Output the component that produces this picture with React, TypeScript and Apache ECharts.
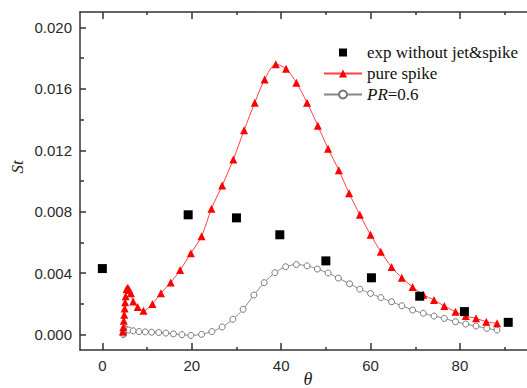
import React, { useEffect, useRef } from "react";
import * as echarts from "echarts";

const xMajor = [0, 20, 40, 60, 80];
const xMinor = [10, 30, 50, 70, 90];
const yMajor = [0, 0.004, 0.008, 0.012, 0.016, 0.02];
const yMinor = [0.002, 0.006, 0.01, 0.014, 0.018];

const expX = [0, 19.2, 30, 39.7, 50, 60.2, 71, 81, 90.8];
const expY = [0.0043, 0.0078, 0.0076, 0.0065, 0.0048, 0.0037, 0.0025, 0.0015, 0.0008];

const spikeX = [4.6, 4.7, 4.8, 4.9, 5.0, 5.1, 5.2, 5.4, 5.7, 6.0, 6.4, 6.9, 7.9, 9.2, 11.2, 13.1, 15.3, 17.4, 19.8, 22.2, 24.4, 26.8, 29.3, 31.7, 34.1, 36.3, 38.8, 41.1, 43.4, 45.8, 48.2, 50.5, 52.9, 55.2, 57.6, 60.0, 62.3, 64.7, 67.0, 69.4, 71.8, 74.2, 76.5, 79.0, 81.3, 83.6, 85.9, 88.3];
const spikeY = [0.0002, 0.0005, 0.0009, 0.0013, 0.0017, 0.0021, 0.0025, 0.00295, 0.00305, 0.0029, 0.0027, 0.00215, 0.0018, 0.00155, 0.002, 0.0027, 0.0034, 0.0042, 0.0053, 0.0064, 0.0082, 0.0097, 0.0114, 0.0133, 0.0151, 0.0166, 0.0176, 0.0173, 0.0164, 0.0151, 0.0136, 0.0121, 0.0107, 0.0092, 0.0078, 0.0065, 0.0054, 0.0044, 0.0037, 0.0031, 0.0026, 0.00225, 0.00186, 0.00149, 0.00121, 0.00106, 0.00084, 0.00074];

const prX = [4.7, 4.75, 4.8, 4.9, 5.0, 5.3, 5.9, 6.9, 8.2, 9.6, 11.0, 12.6, 14.2, 15.9, 17.8, 19.8, 22.2, 24.5, 26.8, 29.2, 31.5, 33.9, 36.2, 38.6, 41.0, 43.4, 45.8, 48.1, 50.5, 52.8, 55.3, 57.6, 60.0, 62.3, 64.7, 67.0, 69.4, 71.8, 74.2, 76.5, 79.0, 81.3, 83.6, 86.0, 88.3];
const prY = [0.0, 0.0001, 0.0002, 0.0003, 0.0004, 0.00035, 0.0003, 0.00025, 0.0002, 0.00018, 0.00016, 0.00014, 0.0001, 0.00005, 0.0, -0.00005, 0.00002, 0.0002, 0.0005, 0.001, 0.00165, 0.00258, 0.00338, 0.00403, 0.00442, 0.00456, 0.00448, 0.00427, 0.00401, 0.00368, 0.00331, 0.00296, 0.00268, 0.00241, 0.00214, 0.00188, 0.0016, 0.00139, 0.00121, 0.00106, 0.00084, 0.00069, 0.00056, 0.00041, 0.0003];

const zip = (xs: number[], ys: number[]) => xs.map((x, i) => [x, ys[i]]);

const AX = "#333";
const labelFont = { fontFamily: "Liberation Sans", fontSize: 15, color: "#2a2a2a" };

function xAxisDef(position: string, ticks: number[], len: number, showLine: boolean, labels: boolean) {
  return {
    type: "value",
    position,
    min: -5,
    max: 95,
    axisLine: { show: showLine, onZero: false, lineStyle: { color: AX, width: 1.5 } },
    axisTick: { show: true, inside: true, length: len, customValues: ticks, lineStyle: { color: AX, width: 1.5 } },
    axisLabel: labels ? { show: true, customValues: xMajor, margin: 8, ...labelFont } : { show: false },
    splitLine: { show: false },
  };
}

function yAxisDef(ticks: number[], len: number, showLine: boolean, labels: boolean) {
  return {
    type: "value",
    position: "left",
    min: -0.001,
    max: 0.021,
    axisLine: { show: showLine, onZero: false, lineStyle: { color: AX, width: 1.5 } },
    axisTick: { show: true, inside: true, length: len, customValues: ticks, lineStyle: { color: AX, width: 1.5 } },
    axisLabel: labels
      ? { show: true, customValues: yMajor, margin: 8, formatter: (v: number) => v.toFixed(3), ...labelFont }
      : { show: false },
    splitLine: { show: false },
  };
}

export default function App() {
  const ref = useRef<HTMLDivElement>(null);
  useEffect(() => {
    if (!ref.current) return;
    const chart = echarts.init(ref.current, undefined, { renderer: "svg" });
    chart.setOption({
      animation: false,
      backgroundColor: "#fff",
      grid: { left: 80, top: 12, bottom: 38, right: -8, containLabel: false },
      xAxis: [
        xAxisDef("bottom", xMajor, 7, true, true),
        xAxisDef("bottom", xMinor, 3, false, false),
        xAxisDef("top", xMajor, 7, true, false),
        xAxisDef("top", xMinor, 3, false, false),
      ],
      yAxis: [yAxisDef(yMajor, 6, true, true), yAxisDef(yMinor, 4, false, false)],
      legend: {
        orient: "vertical",
        left: 323,
        top: 44,
        padding: 0,
        itemWidth: 38,
        itemHeight: 10,
        itemGap: 4,
        textStyle: {
          fontFamily: "Liberation Serif",
          fontSize: 17,
          lineHeight: 17,
          color: "#111",
          rich: { i: { fontStyle: "italic", fontFamily: "Liberation Serif", fontSize: 17, color: "#111" } },
        },
        formatter: (n: string) => (n === "PR=0.6" ? "{i|PR}=0.6" : n),
        data: ["exp without jet&spike", "pure spike", "PR=0.6"],
      },
      series: [
        {
          name: "exp without jet&spike",
          type: "line",
          data: zip(expX, expY),
          symbol: "rect",
          symbolSize: 9,
          itemStyle: { color: "#000" },
          lineStyle: { opacity: 0, width: 0 },
          z: 5,
        },
        {
          name: "pure spike",
          type: "line",
          data: zip(spikeX, spikeY),
          smooth: 0.3,
          symbol: "triangle",
          symbolSize: 8,
          itemStyle: { color: "#ff0000" },
          lineStyle: { color: "#ff4040", width: 1 },
          z: 3,
        },
        {
          name: "PR=0.6",
          type: "line",
          data: zip(prX, prY),
          smooth: 0.3,
          symbol: "circle",
          symbolSize: 6,
          itemStyle: { color: "#fff", borderColor: "#777", borderWidth: 1 },
          lineStyle: { color: "#888", width: 1 },
          z: 2,
        },
      ],
      graphic: [
        {
          type: "text",
          x: 17,
          y: 167,
          rotation: Math.PI / 2,
          style: {
            text: "St",
            fontFamily: "Liberation Serif",
            fontStyle: "italic",
            fontSize: 17,
            fill: "#222",
            align: "center",
            verticalAlign: "middle",
          },
        },
        {
          type: "text",
          x: 308,
          y: 379,
          style: {
            text: "θ",
            fontFamily: "Liberation Serif",
            fontStyle: "italic",
            fontSize: 18,
            fill: "#222",
            align: "center",
            verticalAlign: "middle",
          },
        },
      ],
    });
    return () => chart.dispose();
  }, []);
  return (
    <div
      ref={ref}
      style={{ position: "fixed", left: 0, top: 0, width: 527, height: 388, background: "#fff" }}
    />
  );
}
